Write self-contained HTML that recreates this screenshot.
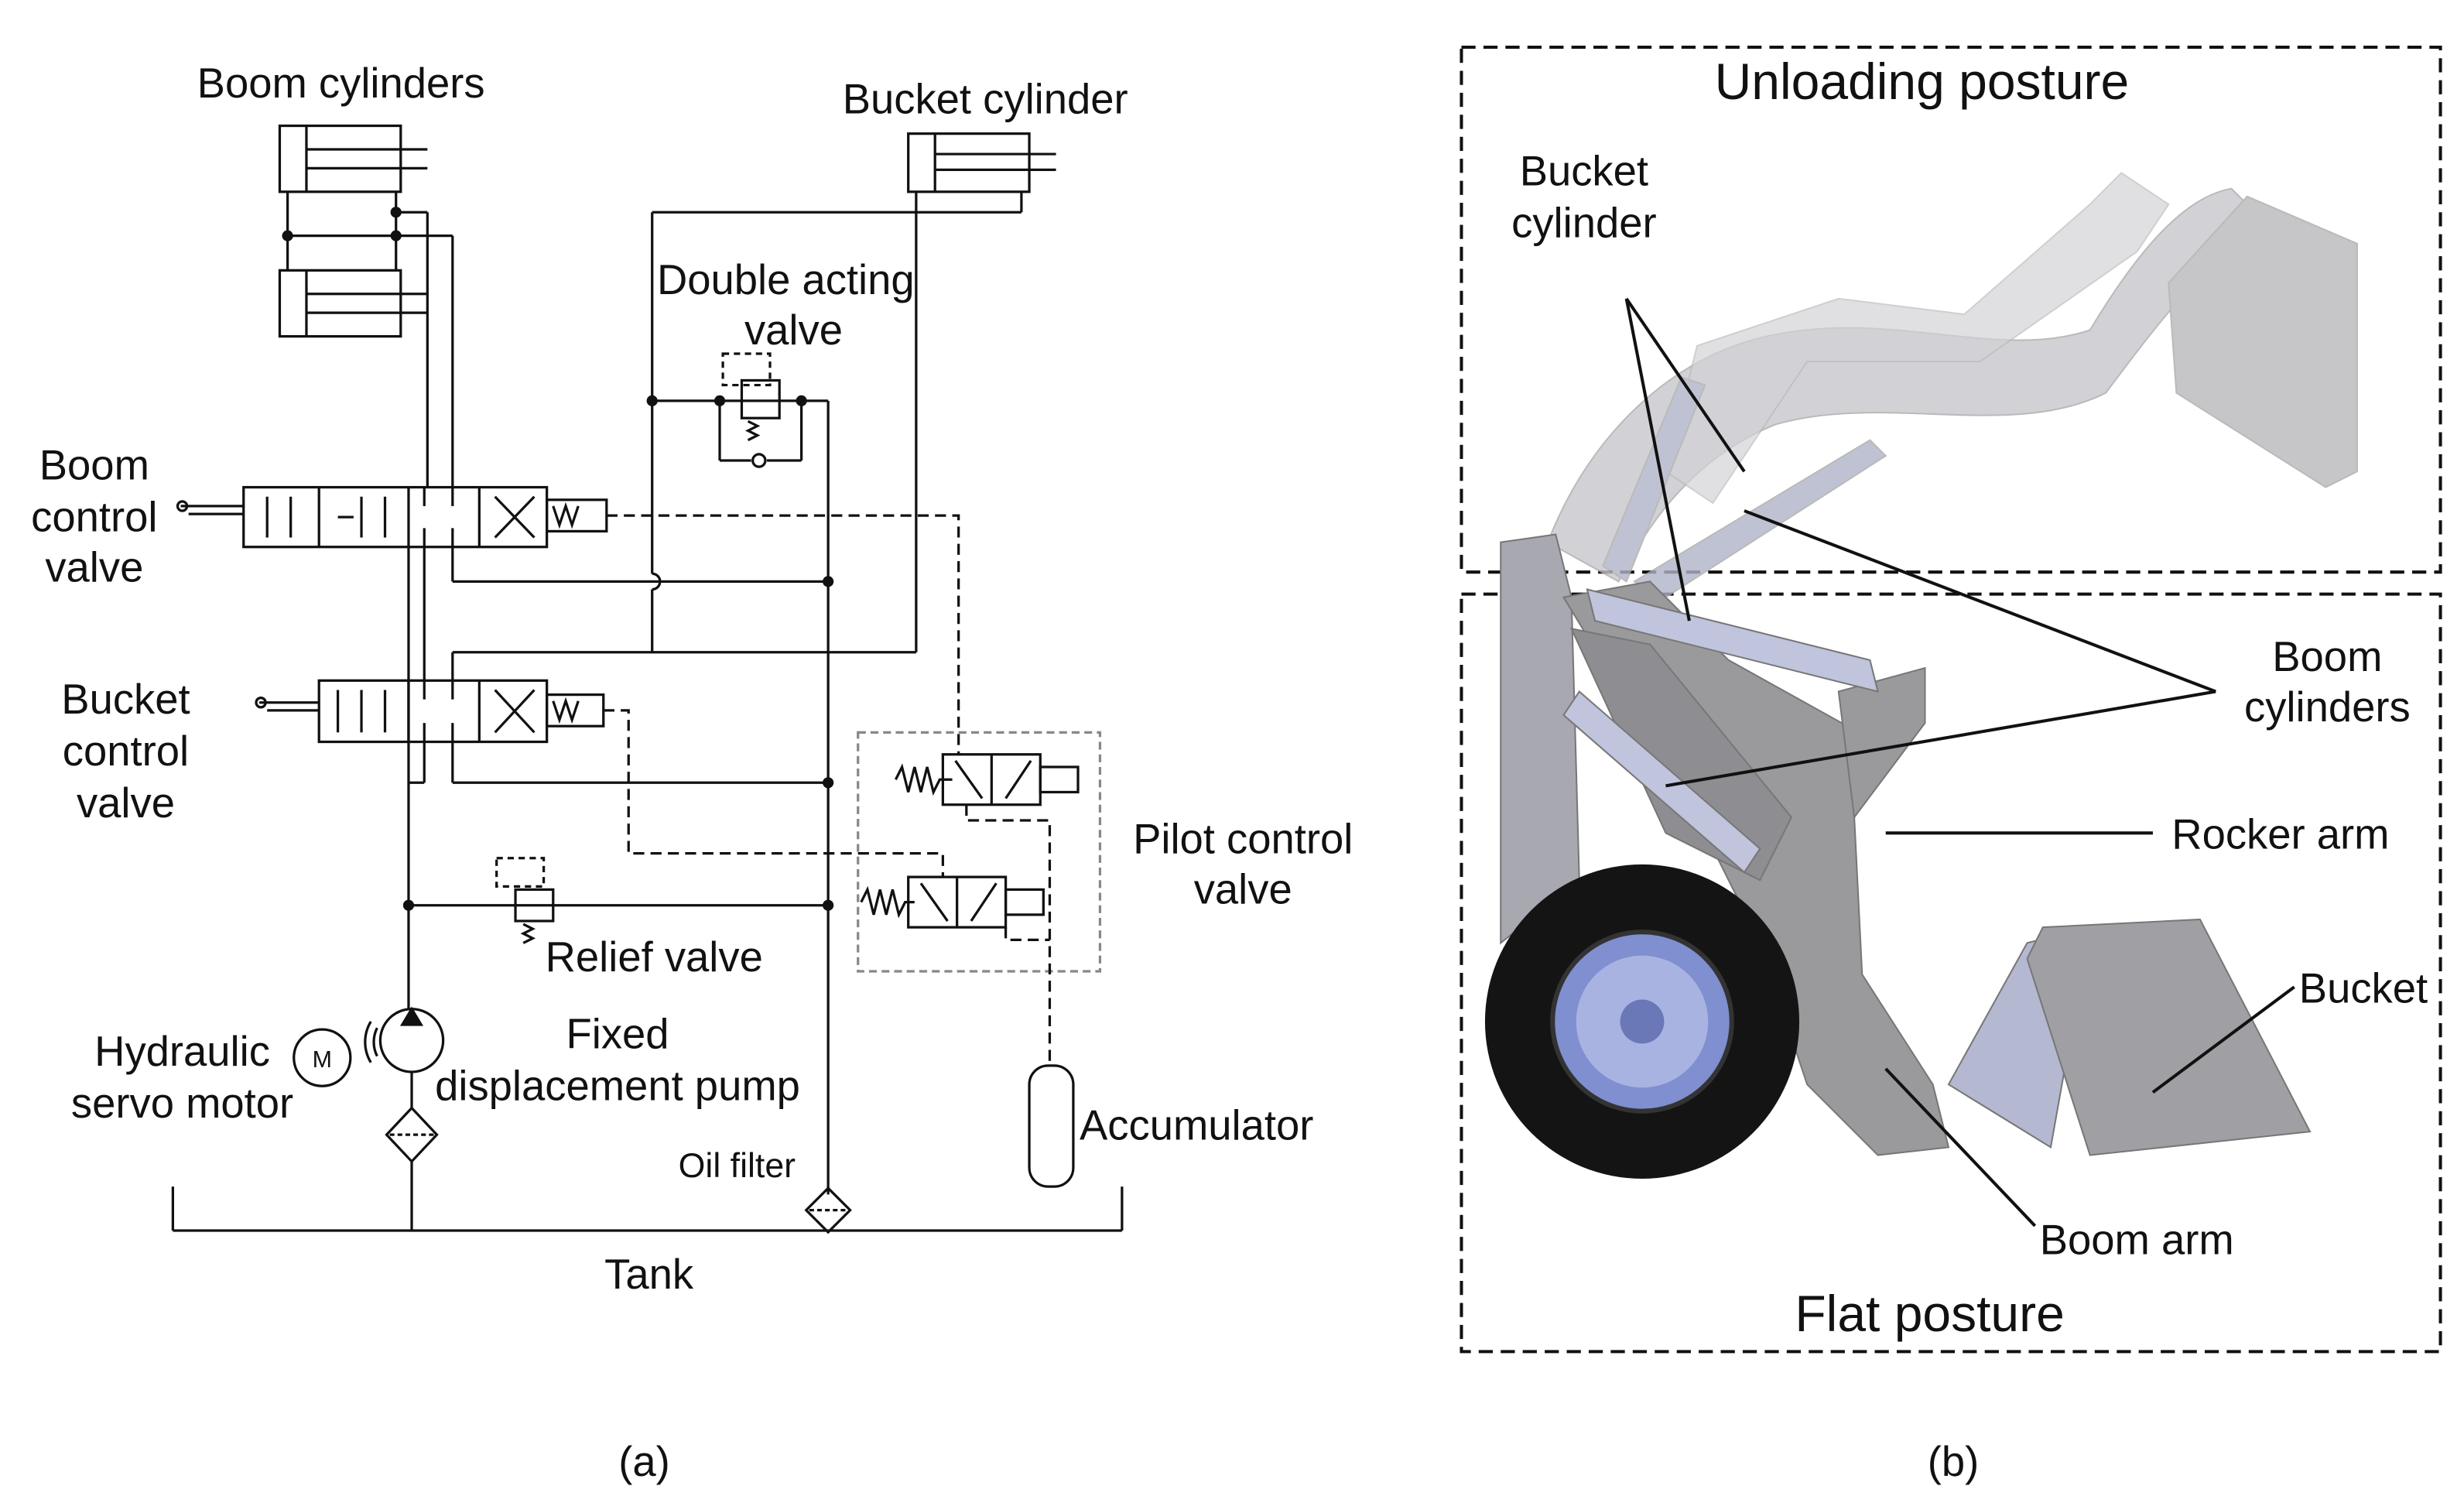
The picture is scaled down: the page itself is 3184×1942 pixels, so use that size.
<!DOCTYPE html>
<html><head><meta charset="utf-8"><style>
html,body{margin:0;padding:0;background:#fff;}
svg{display:block}
text{font-family:"Liberation Sans",Arial,sans-serif;fill:#111}
</style></head><body>
<svg width="3184" height="1942" viewBox="0 0 1568 956.3" xmlns="http://www.w3.org/2000/svg">
<rect width="1568" height="957" fill="#fff"/>
<g stroke="#111" stroke-width="1.6" fill="none">
<rect x="178" y="80" width="77" height="42"/>
<line x1="195" y1="80" x2="195" y2="122"/>
<line x1="195" y1="95" x2="272" y2="95"/><line x1="195" y1="107" x2="272" y2="107"/>
<rect x="178" y="172" width="77" height="42"/>
<line x1="195" y1="172" x2="195" y2="214"/>
<line x1="195" y1="187" x2="272" y2="187"/><line x1="195" y1="199" x2="272" y2="199"/>
<line x1="183" y1="122" x2="183" y2="172"/><line x1="252" y1="122" x2="252" y2="172"/>
<line x1="183" y1="150" x2="288" y2="150"/><line x1="252" y1="135" x2="272" y2="135"/>
<line x1="272" y1="135" x2="272" y2="310"/><line x1="288" y1="150" x2="288" y2="310"/>
<rect x="578" y="85" width="77" height="37"/>
<line x1="595" y1="85" x2="595" y2="122"/>
<line x1="595" y1="98" x2="672" y2="98"/><line x1="595" y1="108" x2="672" y2="108"/>
<line x1="583" y1="122" x2="583" y2="415"/><line x1="650" y1="122" x2="650" y2="135"/>
<line x1="415" y1="135" x2="650" y2="135"/>
<line x1="415" y1="135" x2="415" y2="365"/><path d="M415 365 a5 5 0 0 1 0 10"/><line x1="415" y1="375" x2="415" y2="415"/>
<line x1="288" y1="415" x2="583" y2="415"/>
<line x1="288" y1="415" x2="288" y2="433"/>
<line x1="415" y1="255" x2="527" y2="255"/>
<rect x="472" y="242" width="24" height="24"/>
<rect x="460" y="225" width="30" height="20" stroke-dasharray="4,3"/>
<path d="M476 268 l6 3 -6 3 6 3 -6 3"/>
<line x1="458" y1="255" x2="458" y2="293"/><line x1="510" y1="255" x2="510" y2="293"/>
<line x1="458" y1="293" x2="478" y2="293"/><line x1="488" y1="293" x2="510" y2="293"/>
<circle cx="483" cy="293" r="4"/>
<rect x="155" y="310" width="193" height="38"/>
<line x1="203" y1="310" x2="203" y2="348"/><line x1="260" y1="310" x2="260" y2="348"/><line x1="305" y1="310" x2="305" y2="348"/>
<line x1="170" y1="316" x2="170" y2="342"/><line x1="185" y1="316" x2="185" y2="342"/>
<line x1="215" y1="329" x2="225" y2="329"/><line x1="230" y1="342" x2="230" y2="316"/><line x1="245" y1="316" x2="245" y2="342"/>
<line x1="270" y1="310" x2="270" y2="322"/><line x1="288" y1="310" x2="288" y2="322"/><line x1="270" y1="348" x2="270" y2="336"/><line x1="288" y1="348" x2="288" y2="336"/>
<line x1="315" y1="316" x2="340" y2="342"/><line x1="315" y1="342" x2="340" y2="316"/>
<rect x="348" y="318" width="38" height="20"/><path d="M352 322 l4 12 4 -12 4 12 4 -12"/>
<line x1="115" y1="322" x2="155" y2="322"/><line x1="120" y1="327" x2="155" y2="327"/><circle cx="116" cy="322" r="3"/>
<rect x="203" y="433" width="145" height="39"/>
<line x1="260" y1="433" x2="260" y2="472"/><line x1="305" y1="433" x2="305" y2="472"/>
<line x1="215" y1="439" x2="215" y2="466"/><line x1="230" y1="439" x2="230" y2="466"/><line x1="245" y1="439" x2="245" y2="466"/>
<line x1="270" y1="433" x2="270" y2="445"/><line x1="288" y1="433" x2="288" y2="445"/><line x1="270" y1="472" x2="270" y2="460"/><line x1="288" y1="472" x2="288" y2="460"/>
<line x1="315" y1="439" x2="340" y2="466"/><line x1="315" y1="466" x2="340" y2="439"/>
<rect x="348" y="442" width="36" height="20"/><path d="M352 446 l4 12 4 -12 4 12 4 -12"/>
<line x1="165" y1="447" x2="203" y2="447"/><line x1="170" y1="452" x2="203" y2="452"/><circle cx="166" cy="447" r="3"/>
<line x1="260" y1="348" x2="260" y2="642"/>
<line x1="270" y1="348" x2="270" y2="433"/><line x1="270" y1="472" x2="270" y2="498"/><line x1="260" y1="498" x2="270" y2="498"/>
<line x1="288" y1="348" x2="288" y2="370"/><line x1="288" y1="370" x2="527" y2="370"/>
<line x1="288" y1="472" x2="288" y2="498"/><line x1="288" y1="498" x2="527" y2="498"/>
<line x1="527" y1="255" x2="527" y2="760"/>
<line x1="260" y1="576" x2="527" y2="576"/>
<rect x="328" y="566" width="24" height="20"/>
<rect x="316" y="546" width="30" height="18" stroke-dasharray="4,3"/>
<path d="M333 588 l6 3 -6 3 6 3 -6 3"/>
<circle cx="262" cy="662" r="20"/><path d="M256 652 l6 -10 6 10z" fill="#111"/>
<path d="M236 650 a25 25 0 0 0 0 26"/><path d="M240 654 a20 20 0 0 0 0 18"/>
<circle cx="205" cy="673" r="18"/>
<line x1="262" y1="682" x2="262" y2="705"/>
<path d="M262 705 l16 17 -16 17 -16 -17z"/><line x1="248" y1="722" x2="276" y2="722" stroke-dasharray="3,2"/>
<line x1="262" y1="739" x2="262" y2="783"/>
<line x1="110" y1="783" x2="714" y2="783"/><line x1="110" y1="755" x2="110" y2="783"/><line x1="714" y1="755" x2="714" y2="783"/>
<path d="M527 756 l14 14 -14 14 -14 -14z"/><line x1="515" y1="770" x2="539" y2="770" stroke-dasharray="3,2"/>
<rect x="655" y="678" width="28" height="77" rx="12"/>
<rect x="546" y="466" width="154" height="152" stroke="#888" stroke-dasharray="5,3"/>
<rect x="600" y="480" width="62" height="32"/><line x1="631" y1="480" x2="631" y2="512"/>
<line x1="608" y1="484" x2="625" y2="508"/><line x1="640" y1="508" x2="656" y2="484"/>
<rect x="662" y="488" width="24" height="16"/>
<path d="M570 496 l4 -8 4 16 4 -16 4 16 4 -16 4 16 4 -8 8 0"/>
<rect x="578" y="558" width="62" height="32"/><line x1="609" y1="558" x2="609" y2="590"/>
<line x1="586" y1="562" x2="603" y2="586"/><line x1="618" y1="586" x2="634" y2="562"/>
<rect x="640" y="566" width="24" height="16"/>
<path d="M548 574 l4 -8 4 16 4 -16 4 16 4 -16 4 16 4 -8 6 0"/>
<g stroke-dasharray="7,4">
<path d="M386 328 L610 328 L610 480"/>
<path d="M384 452 L400 452 L400 543 L600 543 L600 558"/>
<path d="M615 512 L615 522 L668 522 L668 678"/>
<path d="M640 590 L640 598 L668 598"/>
</g>
</g>
<g fill="#111">
<circle cx="252" cy="135" r="3.5"/><circle cx="252" cy="150" r="3.5"/><circle cx="183" cy="150" r="3.5"/>
<circle cx="415" cy="255" r="3.5"/><circle cx="458" cy="255" r="3.5"/><circle cx="510" cy="255" r="3.5"/>
<circle cx="527" cy="370" r="3.5"/><circle cx="527" cy="498" r="3.5"/><circle cx="527" cy="576" r="3.5"/><circle cx="260" cy="576" r="3.5"/>
</g>
<g font-size="26.8">
<text x="217" y="62" text-anchor="middle">Boom cylinders</text>
<text x="627" y="72" text-anchor="middle">Bucket cylinder</text>
<text x="500" y="187" text-anchor="middle">Double acting</text>
<text x="505" y="219" text-anchor="middle">valve</text>
<text x="60" y="305" text-anchor="middle">Boom</text>
<text x="60" y="338" text-anchor="middle">control</text>
<text x="60" y="370" text-anchor="middle">valve</text>
<text x="80" y="454" text-anchor="middle">Bucket</text>
<text x="80" y="487" text-anchor="middle">control</text>
<text x="80" y="520" text-anchor="middle">valve</text>
<text x="791" y="543" text-anchor="middle">Pilot control</text>
<text x="791" y="575" text-anchor="middle">valve</text>
<text x="347" y="618">Relief valve</text>
<text x="116" y="678" text-anchor="middle">Hydraulic</text>
<text x="116" y="711" text-anchor="middle">servo motor</text>
<text x="393" y="667" text-anchor="middle">Fixed</text>
<text x="393" y="700" text-anchor="middle">displacement pump</text>
<text x="687" y="725">Accumulator</text>
<text x="413" y="820" text-anchor="middle">Tank</text>
<text x="410" y="939" text-anchor="middle">(a)</text>
<text x="1243" y="939" text-anchor="middle">(b)</text>
</g>
<text x="469" y="749" font-size="22" text-anchor="middle">Oil filter</text>
<text x="205" y="679" font-size="15" text-anchor="middle" font-family="Liberation Serif">M</text>
<g fill="none" stroke="#111" stroke-width="2" stroke-dasharray="9,5">
<rect x="930" y="30" width="623" height="334"/>
<rect x="930" y="378" width="623" height="482"/>
</g>
<g fill="#c8c8cc" stroke="#aaa" opacity="0.8">
<path d="M985 345 C1010 280 1060 230 1120 215 C1200 195 1270 230 1330 210 C1360 160 1390 125 1420 120 L1440 140 C1400 170 1370 210 1340 250 C1280 280 1200 250 1130 270 C1080 290 1050 330 1030 370 Z"/>
<path d="M1060 300 L1080 220 L1170 190 L1250 200 L1330 130 L1350 110 L1380 130 L1360 160 L1260 230 L1150 230 L1090 320 Z" opacity="0.7"/>
<path d="M1380 180 L1430 125 L1500 155 L1500 300 L1480 310 L1385 250 Z" fill="#b8b8bc"/>
<path d="M1040 370 L1190 280 L1200 290 L1060 380 Z" fill="#b0b4c8"/>
<path d="M1020 360 L1070 240 L1085 245 L1035 370 Z" fill="#b0b4c8"/>
</g>
<g stroke="#777" stroke-width="1">
<path d="M955 345 L990 340 L1000 380 L1005 560 L955 600 Z" fill="#a8a8b0"/>
<path d="M995 380 L1050 370 L1100 420 L1190 470 L1180 520 L1185 620 L1230 690 L1240 730 L1195 735 L1150 690 L1120 600 L1080 520 Z" fill="#9a9a9c"/>
<path d="M1000 400 L1060 530 L1120 560 L1140 520 L1050 410 Z" fill="#8e8e92"/>
<path d="M1170 440 L1225 425 L1225 460 L1180 520 Z" fill="#9a9a9c"/>
<path d="M1010 375 L1190 420 L1195 440 L1015 395 Z" fill="#c0c4dc"/>
<path d="M1005 440 L1120 540 L1110 555 L995 455 Z" fill="#c0c4dc"/>
<path d="M1240 690 L1290 600 L1330 590 L1305 730 Z" fill="#b4b8d0"/>
<path d="M1290 610 L1300 590 L1400 585 L1470 720 L1330 735 Z" fill="#a0a0a4"/>
</g>
<circle cx="1045" cy="650" r="100" fill="#141414"/>
<circle cx="1045" cy="650" r="57" fill="#7f8fd0" stroke="#333" stroke-width="3"/>
<circle cx="1045" cy="650" r="42" fill="#a9b3e2"/>
<circle cx="1045" cy="650" r="14" fill="#6a78b8"/>
<g stroke="#111" stroke-width="2">
<line x1="1035" y1="190" x2="1075" y2="395"/>
<line x1="1035" y1="190" x2="1110" y2="300"/>
<line x1="1110" y1="325" x2="1410" y2="440"/>
<line x1="1060" y1="500" x2="1410" y2="440"/>
<line x1="1200" y1="530" x2="1370" y2="530"/>
<line x1="1460" y1="628" x2="1370" y2="695"/>
<line x1="1200" y1="680" x2="1295" y2="780"/>
</g>
<g font-size="26.8">
<text x="1223" y="63" text-anchor="middle" font-size="32.5">Unloading posture</text>
<text x="1008" y="118" text-anchor="middle">Bucket</text>
<text x="1008" y="151" text-anchor="middle">cylinder</text>
<text x="1481" y="427" text-anchor="middle">Boom</text>
<text x="1481" y="459" text-anchor="middle">cylinders</text>
<text x="1382" y="540">Rocker arm</text>
<text x="1463" y="638">Bucket</text>
<text x="1298" y="798">Boom arm</text>
<text x="1228" y="847" text-anchor="middle" font-size="32.5">Flat posture</text>
</g>
</svg>
</body></html>
